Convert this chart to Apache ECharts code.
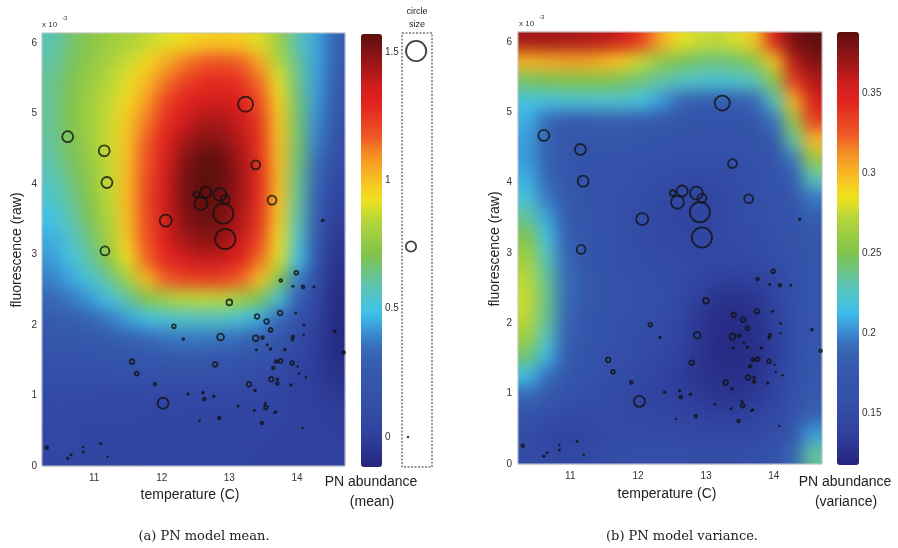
<!DOCTYPE html>
<html><head><meta charset="utf-8">
<script src="https://cdn.jsdelivr.net/npm/echarts@6/dist/echarts.min.js"></script>
<style>
html,body{margin:0;padding:0;background:#fff}
#wrap{position:relative;width:898px;height:548px}
.layer{position:absolute}
</style>
</head><body>
<svg width="0" height="0" style="position:absolute">
  <filter id="sm" x="0" y="0" width="100%" height="100%" color-interpolation-filters="sRGB">
    <feGaussianBlur stdDeviation="8"/>
    <feComponentTransfer><feFuncA type="linear" slope="40" intercept="0"/></feComponentTransfer>
  </filter>
</svg>
<div id="wrap">
  <div id="a" class="layer" style="left:0;top:0;width:898px;height:548px"></div>
  <div id="bL" class="layer" style="left:42px;top:33px;width:303px;height:433px;filter:url(#sm)"></div>
  <div id="bR" class="layer" style="left:518px;top:32px;width:304px;height:432px;filter:url(#sm)"></div>
  <div id="c" class="layer" style="left:0;top:0;width:898px;height:548px"></div>
</div>
<script>
// ---------------- DATA ----------------
const tempCols = [10.37,10.65,10.93,11.21,11.49,11.77,12.05,12.33,12.61,12.89,13.17,13.45,13.73,14.01,14.29,14.57];
const fluorRows = [0.14,0.42,0.70,0.98,1.26,1.54,1.81,2.09,2.37,2.65,2.93,3.21,3.49,3.77,4.05,4.33,4.61,4.88,5.16,5.44,5.72,6.00];
// model mean, rows listed from top (6.00) to bottom (0.14)
const meanGrid = [
[0.58,0.66,0.73,0.78,0.82,0.86,0.90,0.94,0.97,0.98,0.97,0.90,0.78,0.58,0.44,0.30],
[0.60,0.68,0.75,0.81,0.87,0.95,1.04,1.12,1.17,1.19,1.16,1.05,0.84,0.62,0.44,0.28],
[0.62,0.70,0.77,0.84,0.91,1.01,1.13,1.22,1.27,1.29,1.26,1.14,0.91,0.64,0.43,0.25],
[0.62,0.71,0.79,0.86,0.95,1.07,1.21,1.31,1.36,1.37,1.33,1.20,0.96,0.66,0.42,0.22],
[0.62,0.71,0.79,0.87,0.98,1.12,1.27,1.37,1.43,1.43,1.38,1.24,0.99,0.67,0.40,0.18],
[0.61,0.70,0.78,0.87,0.99,1.16,1.31,1.43,1.50,1.49,1.41,1.26,1.00,0.67,0.38,0.14],
[0.59,0.68,0.76,0.86,1.00,1.18,1.34,1.49,1.57,1.55,1.44,1.27,1.01,0.66,0.35,0.11],
[0.56,0.65,0.74,0.86,1.01,1.20,1.36,1.52,1.58,1.56,1.45,1.28,1.01,0.64,0.32,0.07],
[0.53,0.62,0.72,0.85,1.01,1.21,1.37,1.52,1.57,1.55,1.44,1.27,1.00,0.62,0.29,0.03],
[0.49,0.58,0.69,0.83,1.00,1.20,1.36,1.49,1.54,1.52,1.42,1.25,0.98,0.59,0.26,0.00],
[0.45,0.54,0.65,0.80,0.98,1.18,1.33,1.44,1.49,1.48,1.38,1.22,0.94,0.55,0.22,-0.03],
[0.42,0.50,0.60,0.73,0.92,1.15,1.29,1.36,1.39,1.38,1.31,1.14,0.90,0.50,0.18,-0.05],
[0.38,0.44,0.52,0.62,0.79,1.01,1.16,1.22,1.24,1.23,1.16,1.00,0.73,0.38,0.12,-0.07],
[0.33,0.37,0.42,0.50,0.60,0.72,0.80,0.85,0.86,0.85,0.80,0.70,0.52,0.28,0.07,-0.08],
[0.27,0.29,0.32,0.37,0.43,0.49,0.53,0.55,0.56,0.55,0.52,0.45,0.34,0.18,0.03,-0.09],
[0.22,0.23,0.24,0.27,0.30,0.33,0.36,0.37,0.37,0.36,0.34,0.29,0.21,0.10,0.00,-0.09],
[0.17,0.17,0.18,0.19,0.20,0.22,0.23,0.23,0.23,0.22,0.21,0.18,0.12,0.05,-0.01,-0.08],
[0.13,0.13,0.13,0.13,0.14,0.14,0.14,0.14,0.14,0.13,0.12,0.10,0.07,0.02,-0.01,-0.06],
[0.09,0.09,0.09,0.08,0.08,0.08,0.07,0.07,0.07,0.06,0.06,0.05,0.04,0.02,0.00,-0.03],
[0.07,0.07,0.06,0.06,0.06,0.05,0.05,0.05,0.04,0.04,0.04,0.03,0.03,0.02,0.01,0.00],
[0.06,0.06,0.05,0.05,0.05,0.04,0.04,0.04,0.04,0.03,0.03,0.03,0.02,0.02,0.01,0.01],
[0.05,0.05,0.05,0.04,0.04,0.04,0.04,0.03,0.03,0.03,0.03,0.02,0.02,0.02,0.02,0.02]
];
// model variance, rows listed from top (6.00) to bottom (0.14)
const varGrid = [
[0.368,0.368,0.367,0.365,0.362,0.355,0.335,0.305,0.285,0.277,0.274,0.280,0.295,0.350,0.380,0.388],
[0.300,0.303,0.305,0.305,0.300,0.292,0.275,0.257,0.248,0.243,0.240,0.243,0.255,0.295,0.362,0.378],
[0.245,0.248,0.250,0.251,0.250,0.247,0.240,0.233,0.226,0.222,0.220,0.223,0.228,0.255,0.335,0.365],
[0.217,0.217,0.220,0.220,0.222,0.222,0.217,0.205,0.190,0.180,0.177,0.180,0.190,0.228,0.300,0.352],
[0.210,0.190,0.180,0.180,0.182,0.182,0.180,0.175,0.170,0.167,0.165,0.167,0.170,0.195,0.260,0.335],
[0.205,0.185,0.172,0.168,0.168,0.168,0.167,0.165,0.163,0.162,0.161,0.162,0.164,0.174,0.235,0.300],
[0.205,0.185,0.172,0.165,0.163,0.162,0.161,0.160,0.158,0.157,0.157,0.158,0.160,0.165,0.195,0.262],
[0.210,0.190,0.173,0.165,0.162,0.160,0.158,0.155,0.152,0.150,0.152,0.155,0.158,0.162,0.178,0.228],
[0.220,0.196,0.176,0.166,0.161,0.158,0.155,0.150,0.146,0.145,0.147,0.153,0.157,0.160,0.168,0.195],
[0.236,0.208,0.180,0.168,0.161,0.157,0.153,0.148,0.144,0.143,0.146,0.152,0.156,0.159,0.165,0.180],
[0.252,0.218,0.185,0.170,0.162,0.157,0.153,0.149,0.146,0.145,0.147,0.151,0.155,0.158,0.164,0.172],
[0.264,0.228,0.190,0.172,0.163,0.158,0.155,0.152,0.150,0.148,0.147,0.148,0.150,0.154,0.162,0.170],
[0.272,0.235,0.192,0.174,0.164,0.159,0.157,0.155,0.152,0.145,0.138,0.137,0.140,0.148,0.160,0.170],
[0.276,0.238,0.192,0.174,0.164,0.160,0.158,0.156,0.149,0.137,0.128,0.127,0.130,0.141,0.157,0.170],
[0.274,0.236,0.190,0.172,0.163,0.159,0.157,0.154,0.145,0.132,0.124,0.123,0.126,0.137,0.156,0.170],
[0.264,0.228,0.186,0.170,0.162,0.158,0.155,0.151,0.141,0.130,0.123,0.122,0.125,0.136,0.155,0.170],
[0.244,0.212,0.180,0.167,0.160,0.156,0.152,0.147,0.138,0.129,0.123,0.122,0.125,0.136,0.155,0.171],
[0.214,0.193,0.172,0.163,0.158,0.153,0.147,0.142,0.136,0.129,0.125,0.124,0.127,0.138,0.156,0.173],
[0.190,0.174,0.163,0.158,0.155,0.150,0.144,0.140,0.136,0.132,0.129,0.128,0.131,0.141,0.158,0.176],
[0.165,0.158,0.152,0.150,0.151,0.150,0.147,0.145,0.142,0.139,0.136,0.136,0.139,0.147,0.162,0.185],
[0.155,0.146,0.140,0.143,0.150,0.152,0.152,0.151,0.150,0.148,0.147,0.147,0.149,0.155,0.172,0.205],
[0.155,0.149,0.145,0.148,0.153,0.155,0.156,0.156,0.156,0.155,0.155,0.155,0.157,0.163,0.188,0.235]
];
// observed samples
const pointTemp = [10.61,11.15,11.19,11.16,12.06,13.24,13.39,13.63,12.51,12.65,12.58,12.86,12.94,12.91,12.94,14.38,
 13.99,13.76,13.94,14.09,14.25,13.00,13.75,13.98,13.41,13.55,12.18,13.61,14.10,14.56,12.32,12.87,13.39,13.49,13.94,13.93,14.10,
 13.40,13.56,13.61,13.82,14.69,11.56,12.79,13.69,13.76,13.65,13.93,14.01,11.63,14.03,14.13,13.62,13.71,13.71,13.91,11.90,13.29,13.38,
 12.02,12.39,12.61,12.63,12.77,13.13,13.53,13.54,13.37,13.67,13.69,12.85,12.56,13.48,14.08,
 10.22,10.30,10.61,10.66,10.84,10.84,11.10,11.20];
const pointFluor = [4.67,4.47,4.02,3.05,3.48,5.13,4.27,3.77,3.85,3.88,3.72,3.85,3.78,3.58,3.22,3.48,
 2.74,2.63,2.55,2.54,2.54,2.32,2.17,2.17,2.12,2.05,1.98,1.93,2.00,1.91,1.80,1.83,1.81,1.82,1.83,1.79,1.86,
 1.65,1.72,1.66,1.65,1.61,1.48,1.44,1.48,1.49,1.39,1.46,1.41,1.31,1.31,1.26,1.23,1.23,1.17,1.15,1.16,1.16,1.07,
 0.89,1.02,1.04,0.95,0.99,0.85,0.89,0.83,0.79,0.76,0.77,0.68,0.64,0.61,0.54,
 0.20,0.26,0.11,0.16,0.27,0.20,0.32,0.13];
const pointAbund = [0.79,0.79,0.79,0.63,0.87,1.10,0.63,0.63,0.39,0.79,0.94,0.94,0.63,1.50,1.50,0.08,
 0.24,0.16,0.04,0.16,0.04,0.39,0.31,0.04,0.31,0.31,0.24,0.24,0.04,0.08,0.08,0.47,0.39,0.16,0.16,0.08,0.00,
 0.04,0.04,0.08,0.08,0.16,0.31,0.31,0.16,0.24,0.16,0.24,0.00,0.24,0.00,0.00,0.31,0.08,0.16,0.08,0.16,0.31,0.08,
 0.79,0.08,0.08,0.16,0.08,0.04,0.04,0.24,0.04,0.04,0.04,0.16,0.00,0.16,0.00,
 0.08,0.16,0.08,0.04,0.00,0.04,0.04,0.00];
const xTicks = [11,12,13,14];
const yTicks = [0,1,2,3,4,5,6];
const meanTicks = [0,0.5,1,1.5];
const varTicks = [0.15,0.2,0.25,0.3,0.35];
const legendSizes = [1.5,0.74,0];
const legendX = [0.47,0.3,0.2];

// ---------------- STYLE ----------------
const jetStops = [[0,'#23257a'],[0.04,'#2b3590'],[0.08,'#3042a0'],[0.15,'#3450a8'],[0.22,'#3559ad'],[0.27,'#3767b5'],
 [0.31,'#3a8fd4'],[0.356,'#3fc2ea'],[0.416,'#5cc4b4'],[0.49,'#80c24b'],[0.57,'#b5d63a'],[0.617,'#efe21f'],
 [0.66,'#f7c323'],[0.725,'#f58a24'],[0.76,'#ef5a26'],[0.84,'#e3221f'],[0.88,'#d21e1d'],[0.92,'#a81719'],[1,'#5e0e0e']];
function hex2rgb(h){return [parseInt(h.substr(1,2),16),parseInt(h.substr(3,2),16),parseInt(h.substr(5,2),16)];}
function buildColors(n){
  const out=[];
  for(let i=0;i<n;i++){
    const f=i/(n-1);
    let k=0; while(k<jetStops.length-2 && jetStops[k+1][0]<f) k++;
    const a=jetStops[k], b=jetStops[k+1];
    const t=Math.min(1,Math.max(0,(f-a[0])/(b[0]-a[0])));
    const ca=hex2rgb(a[1]), cb=hex2rgb(b[1]);
    out.push('rgb('+ca.map((v,j)=>Math.round(v+(cb[j]-v)*t)).join(',')+')');
  }
  return out;
}
const jet = buildColors(96);
const FONT = '"Liberation Sans", Arial, Helvetica, sans-serif';
const SERIF = '"DejaVu Serif", "Liberation Serif", serif';
const meanRange = [-0.117, 1.57], varRange = [0.1175, 0.388];

function heatData(grid){
  const d=[]; const nr=grid.length;
  grid.forEach((row,i)=>row.forEach((v,c)=>d.push([c, nr-1-i, v])));
  return d;
}
const pts = pointTemp.map((t,i)=>[t, pointFluor[i], pointAbund[i]]);
const hollowPts = pts.filter(p=>p[2]>=0.12);
const dotPts = pts.filter(p=>p[2]<0.12);
const diam = v => 2.5 + 13*v;
const RING = 1.8;

const panelL = {left:42, top:33, width:303, height:433};
const panelR = {left:518, top:32, width:304, height:432};
const hideCat = (gridIndex, data)=>({type:'category', gridIndex, data, show:false, boundaryGap:true});
const heatSeries = (gi, grid)=>({type:'heatmap', xAxisIndex:gi, yAxisIndex:gi, data:heatData(grid), silent:true,
   progressive:0, itemStyle:{borderWidth:0}, emphasis:{disabled:true}});

// ---------- layer A: base heatmaps + colour bars ----------
const chartA = echarts.init(document.getElementById('a'));
chartA.setOption({
  animation:false, backgroundColor:'#fff',
  grid:[Object.assign({}, panelL), Object.assign({}, panelR)],
  xAxis:[hideCat(0, tempCols), hideCat(1, tempCols)],
  yAxis:[hideCat(0, fluorRows), hideCat(1, fluorRows)],
  visualMap:[
    {type:'continuous', seriesIndex:0, min:meanRange[0], max:meanRange[1], inRange:{color:jet},
     left:361, top:34, itemWidth:21, itemHeight:433, padding:0, calculable:false, hoverLink:false},
    {type:'continuous', seriesIndex:1, min:varRange[0], max:varRange[1], inRange:{color:jet},
     left:837, top:32, itemWidth:22, itemHeight:433, padding:0, calculable:false, hoverLink:false}
  ],
  series:[heatSeries(0, meanGrid), heatSeries(1, varGrid)]
});

// ---------- layer B: smoothed copies of the fields ----------
function smoothLayer(id, grid, range){
  const ch = echarts.init(document.getElementById(id));
  ch.setOption({
    animation:false, backgroundColor:'transparent',
    grid:{left:0, right:0, top:0, bottom:0},
    xAxis:hideCat(0, tempCols), yAxis:hideCat(0, fluorRows),
    visualMap:{type:'continuous', show:false, seriesIndex:0, min:range[0], max:range[1], inRange:{color:jet}},
    series:[heatSeries(0, grid)]
  });
}
smoothLayer('bL', meanGrid, meanRange);
smoothLayer('bR', varGrid, varRange);

// ---------- layer C: axes, samples, labels ----------
function valueAxes(gridIndex, labelMargin){
  return {
    x:{type:'value', gridIndex, min:10.23, max:14.71,
       axisLine:{show:false}, splitLine:{show:false}, axisTick:{show:false},
       axisLabel:{customValues:xTicks, fontSize:10, color:'#333', margin:7, fontFamily:FONT}},
    y:{type:'value', gridIndex, min:0, max:6.14,
       axisLine:{show:false}, splitLine:{show:false}, axisTick:{show:false},
       axisLabel:{customValues:yTicks, fontSize:10, color:'#333', margin:labelMargin, fontFamily:FONT}}
  };
}
const vaL = valueAxes(0, 5), vaR = valueAxes(1, 6);
function scatterPair(gi){
  return [
    {type:'scatter', xAxisIndex:gi, yAxisIndex:gi, z:5, data:hollowPts, symbol:'circle',
     symbolSize:d=>diam(d[2])-RING, silent:true,
     itemStyle:{color:'rgba(0,0,0,0)', borderColor:'#111', borderWidth:RING}},
    {type:'scatter', xAxisIndex:gi, yAxisIndex:gi, z:5, data:dotPts, symbol:'circle',
     symbolSize:d=>diam(d[2]), silent:true, itemStyle:{color:'#111'}}
  ];
}
const barAxis = (gi, range, ticks, margin)=>({type:'value', gridIndex:gi, min:range[0], max:range[1], position:'right',
     axisLine:{show:false}, splitLine:{show:false}, axisTick:{show:false},
     axisLabel:{customValues:ticks, fontSize:10, color:'#333', margin:margin, fontFamily:FONT}});
const txt = (x,y,text,font,extra)=>Object.assign({type:'text', x, y, silent:true,
     style:{text, font, fill:'#222', textAlign:'center', textVerticalAlign:'middle'}}, extra||{});

const chartC = echarts.init(document.getElementById('c'));
chartC.setOption({
  animation:false, backgroundColor:'transparent',
  grid:[
    Object.assign({show:true, borderColor:'#c8c8c8', borderWidth:1, backgroundColor:'rgba(0,0,0,0)'}, panelL),
    Object.assign({show:true, borderColor:'#c8c8c8', borderWidth:1, backgroundColor:'rgba(0,0,0,0)'}, panelR),
    {left:361, top:34, width:21, height:433},
    {left:837, top:32, width:22, height:433},
    {left:402, top:33, width:30, height:434}
  ],
  xAxis:[vaL.x, vaR.x,
    {type:'value', gridIndex:2, show:false, min:0, max:1},
    {type:'value', gridIndex:3, show:false, min:0, max:1},
    {type:'value', gridIndex:4, show:false, min:0, max:1}],
  yAxis:[vaL.y, vaR.y,
    barAxis(2, meanRange, meanTicks, 3),
    barAxis(3, varRange, varTicks, 3),
    {type:'value', gridIndex:4, min:meanRange[0], max:meanRange[1], show:false}],
  series:[
    ...scatterPair(0), ...scatterPair(1),
    {type:'scatter', xAxisIndex:4, yAxisIndex:4, z:5, silent:true, symbol:'circle',
     data:legendSizes.map((v,i)=>[legendX[i], v]).filter(p=>p[1]>=0.12),
     symbolSize:d=>diam(d[1])-RING,
     itemStyle:{color:'rgba(0,0,0,0)', borderColor:'#111', borderWidth:RING}},
    {type:'scatter', xAxisIndex:4, yAxisIndex:4, z:5, silent:true, symbol:'circle',
     data:legendSizes.map((v,i)=>[legendX[i], v]).filter(p=>p[1]<0.12),
     symbolSize:d=>diam(d[1]), itemStyle:{color:'#111'}}
  ],
  graphic:[
    {type:'rect', shape:{x:402, y:33, width:30, height:434}, silent:true,
     style:{fill:'none', stroke:'#333', lineWidth:1, lineDash:[2,1.5]}},
    txt(417, 12, 'circle', '9px '+FONT),
    txt(417, 25, 'size', '9px '+FONT),
    {type:'text', x:42, y:25, silent:true, style:{text:'x 10', font:'8px '+FONT, fill:'#333', textVerticalAlign:'middle'}},
    {type:'text', x:62, y:18, silent:true, style:{text:'-3', font:'6px '+FONT, fill:'#333', textVerticalAlign:'middle'}},
    {type:'text', x:519, y:24, silent:true, style:{text:'x 10', font:'8px '+FONT, fill:'#333', textVerticalAlign:'middle'}},
    {type:'text', x:539, y:17, silent:true, style:{text:'-3', font:'6px '+FONT, fill:'#333', textVerticalAlign:'middle'}},
    txt(17, 250, 'fluorescence (raw)', '14px '+FONT, {rotation:Math.PI/2}),
    txt(495, 249, 'fluorescence (raw)', '14px '+FONT, {rotation:Math.PI/2}),
    txt(190, 495, 'temperature (C)', '14px '+FONT),
    txt(667, 494, 'temperature (C)', '14px '+FONT),
    txt(371, 482, 'PN abundance', '14px '+FONT),
    txt(372, 502, '(mean)', '14px '+FONT),
    txt(845, 482, 'PN abundance', '14px '+FONT),
    txt(846, 502, '(variance)', '14px '+FONT),
    txt(204, 537, '(a) PN model mean.', '13px '+SERIF),
    txt(682, 537, '(b) PN model variance.', '13px '+SERIF)
  ]
});
</script>
</body></html>
